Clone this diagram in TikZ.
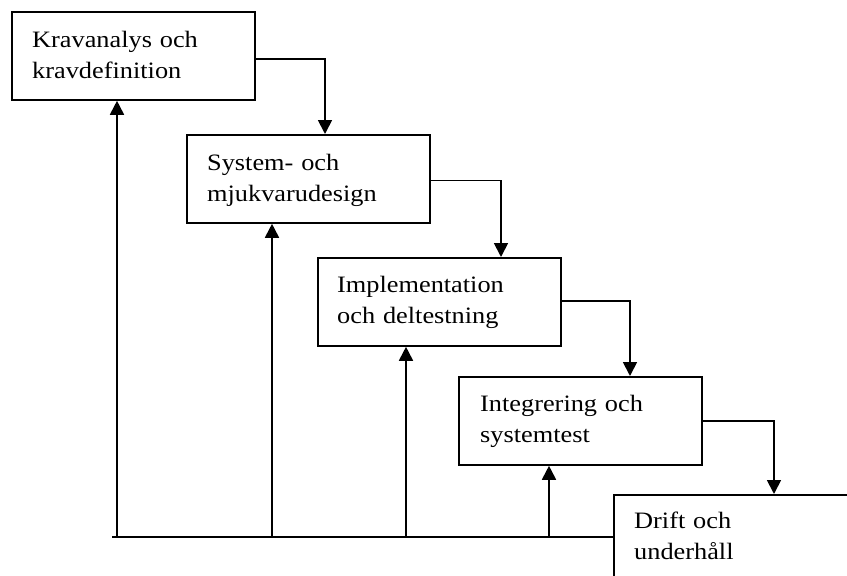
\documentclass[tikz,border=0pt]{standalone}
\usepackage{fontspec}
\setmainfont{Liberation Serif}[FakeStretch=1.12]
\usetikzlibrary{arrows.meta,calc}
\tikzset{
  box/.style={draw, line width=1.8pt, rectangle, minimum width=243pt, minimum height=88pt, anchor=north west, inner sep=0pt},
  txt/.style={anchor=base west, align=left, text width=230pt, inner sep=0pt, font=\fontsize{23.5}{31}\selectfont},
  arr/.style={line width=1.8pt, -{Triangle[length=14pt,width=14pt]}},
  plain/.style={line width=1.8pt}
}
\begin{document}
\begin{tikzpicture}[x=1pt,y=-1pt]
\useasboundingbox (0,0) rectangle (847,576);
\clip (0,0) rectangle (847,576);
\node[box] (b1) at (11,11) {};
\node[box] (b2) at (186,134) {};
\node[box] (b3) at (317,257) {};
\node[box] (b4) at (458,376) {};
\node[box] (b5) at (613,494) {};
\node[txt] (t1) at ($(b1.north west)+(21,36.5)$) {Kravanalys och\\kravdefinition};
\node[txt] (t2) at ($(b2.north west)+(21,36)$) {System- och\\mjukvarudesign};
\node[txt] (t3) at ($(b3.north west)+(20,35)$) {Implementation\\och deltestning};
\node[txt] (t4) at ($(b4.north west)+(22,35)$) {Integrering och\\systemtest};
\node[txt] (t5) at ($(b5.north west)+(21,34)$) {Drift och\\underhåll};
% forward arrows
\draw[arr] ($(b1.east)+(0,3)$) -| ($(b2.north west)+(139,0)$);
\draw[arr] ($(b2.east)+(0,1.5)$) -| ($(b3.north west)+(184,0)$);
\draw[arr] ($(b3.east)+(0,-1)$) -| ($(b4.north west)+(172,0)$);
\draw[arr] (b4.east) -| ($(b5.north west)+(161,0)$);
% feedback line
\coordinate (L) at (112,537);
\draw[plain] (L) -- (L -| b5.west);
\coordinate (u1) at (117,537);
\coordinate (u2) at (272,537);
\coordinate (u3) at (406,537);
\coordinate (u4) at (549,537);
\draw[arr] (u1) -- (u1 |- b1.south);
\draw[arr] (u2) -- (u2 |- b2.south);
\draw[arr] (u3) -- (u3 |- b3.south);
\draw[arr] (u4) -- (u4 |- b4.south);
\end{tikzpicture}
\end{document}
